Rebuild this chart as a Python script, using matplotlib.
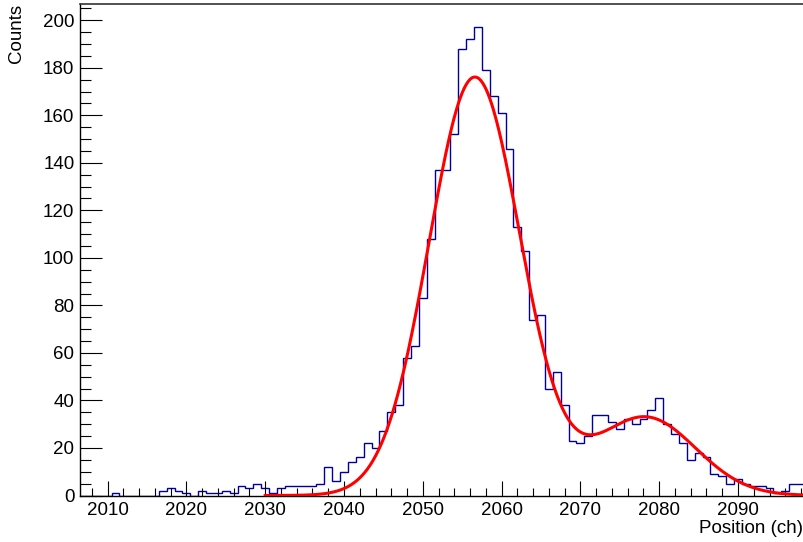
import matplotlib.pyplot as plt
import numpy as np
from matplotlib.ticker import MultipleLocator

plt.rcParams['font.family'] = ['Liberation Sans', 'DejaVu Sans']

# Histogram: one bin per channel, first bin centred on 2007
first_channel = 2007
counts = [0, 0, 0, 0, 1, 0, 0, 0, 0, 0,
          2, 3, 2, 1, 0, 2, 1, 1, 2, 1,
          4, 3, 5, 3, 1, 3, 4, 4, 4, 4,
          5, 12, 6, 10, 14, 16, 22, 20, 27, 35,
          38, 58, 63, 83, 108, 137, 137, 152, 188, 192,
          197, 179, 168, 161, 146, 113, 103, 74, 76, 45,
          52, 38, 23, 22, 25, 34, 34, 31, 28, 32,
          30, 32, 36, 41, 30, 26, 22, 15, 18, 16,
          9, 8, 5, 7, 5, 4, 4, 3, 1, 2,
          5, 5]

# Double gaussian fit: amplitude, mean, sigma for each peak
peak1 = [176.0, 2056.6, 5.8]
peak2 = [33.0, 2078.2, 6.4]
fit_range = [2030.0, 2100.0]

edges = first_channel - 0.5 + np.arange(len(counts) + 1)


def gaus(x, a, mu, sigma):
    return a * np.exp(-0.5 * ((x - mu) / sigma) ** 2)


fig = plt.figure(figsize=(8.04, 5.42), dpi=100)
ax = fig.add_axes([80 / 804, 46.5 / 542, 725 / 804, 491.5 / 542])

ax.stairs(counts, edges, color='#000099', linewidth=1.0, baseline=0)

xf = np.linspace(fit_range[0], fit_range[1], 600)
yf = gaus(xf, *peak1) + gaus(xf, *peak2)
ax.plot(xf, yf, color='#ff0000', linewidth=2.2, zorder=3)

ax.set_xlim(2006.5, 2098.5)
ax.set_ylim(0, 1.05 * max(counts))

ax.xaxis.set_major_locator(MultipleLocator(10))
ax.xaxis.set_minor_locator(MultipleLocator(2))
ax.yaxis.set_major_locator(MultipleLocator(20))
ax.yaxis.set_minor_locator(MultipleLocator(5))

ax.tick_params(axis='x', which='major', direction='in', length=10.6, width=0.8,
               pad=5, labelsize=13.5)
ax.tick_params(axis='x', which='minor', direction='in', length=5.5, width=0.8)
ax.tick_params(axis='y', which='major', direction='in', length=15.6, width=0.8,
               pad=4, labelsize=13.5)
ax.tick_params(axis='y', which='minor', direction='in', length=7.7, width=0.8)

for side in ['left', 'bottom']:
    ax.spines[side].set_linewidth(1.0)
ax.spines['top'].set_linewidth(1.2)
ax.spines['top'].set_color('#333333')

fig.text(16.5 / 804, 1 - 4 / 542, 'Counts', rotation=90, ha='center', va='top',
         fontsize=13.5)
fig.text(803 / 804, 1 - 537 / 542, 'Position (ch)', ha='right', va='bottom',
         fontsize=13.5)

fig.savefig('out.png', dpi=100)
